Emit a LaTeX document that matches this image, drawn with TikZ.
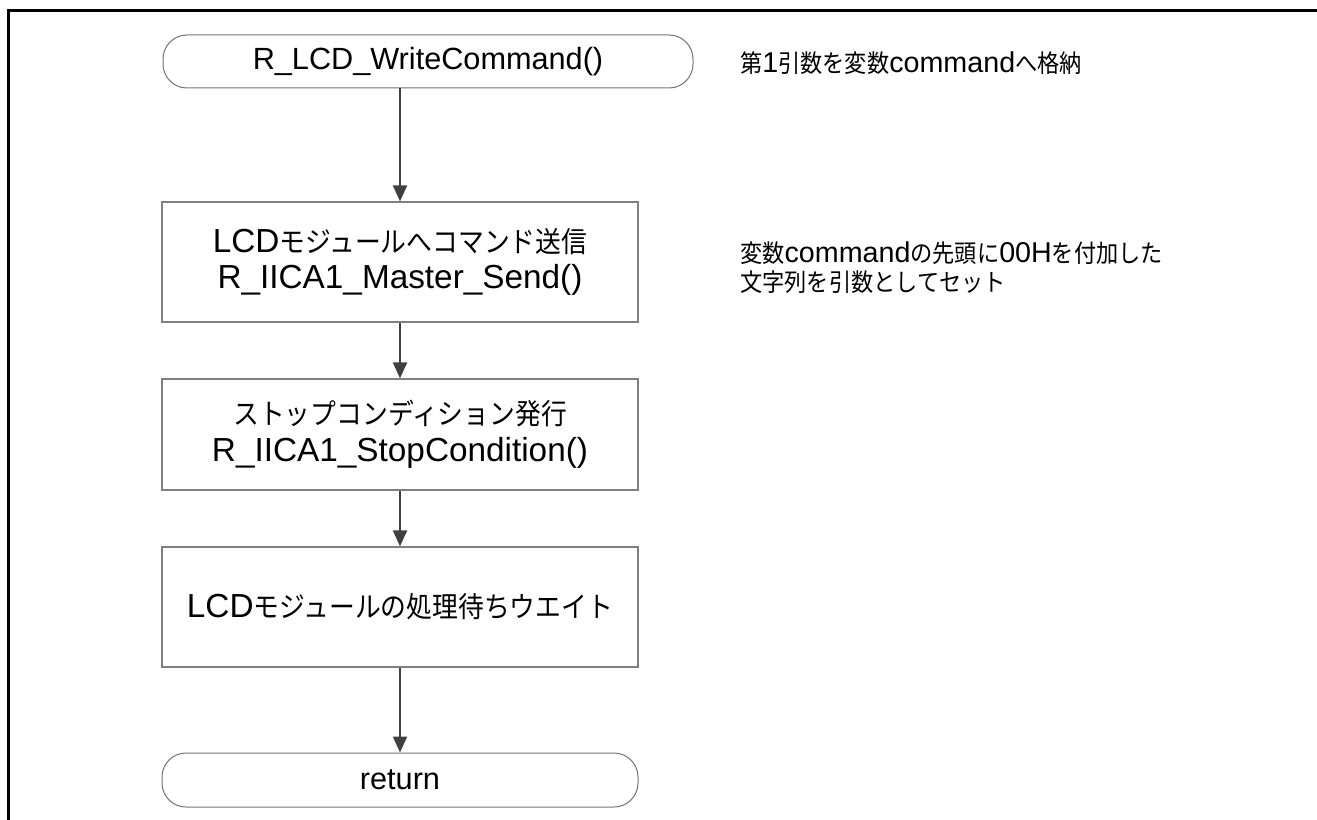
\documentclass[tikz,border=0pt]{standalone}
\usepackage{fontspec}
\setmainfont{Liberation Sans}
\newfontfamily\jp[Scale=0.86, FakeStretch=0.9]{Noto Sans CJK JP}
\usetikzlibrary{arrows.meta}
\def\largeur{1317}
\def\hauteur{820}

\begin{document}
\begin{tikzpicture}[x=0.75pt, y=-0.75pt,
  boite/.style={draw=black!50, line width=0.9pt, minimum width=357pt, align=center, inner sep=0pt, font=\fontsize{25}{27.5}\selectfont},
  terminal/.style={draw=black!55, line width=0.75pt, rounded corners=18pt, inner sep=0pt, font=\fontsize{23}{27}\selectfont},
  note/.style={anchor=west, align=left, inner sep=0pt, font=\fontsize{21.5}{21.75}\selectfont},
  fleche/.style={draw=black!75, line width=1.5pt, -{Triangle[length=12pt,width=10.5pt]}}]
\useasboundingbox (0,0) rectangle (\largeur,\hauteur);
\draw[line width=2.25pt] (8,\hauteur) -- (8,11) -- (\largeur,11);

\node[terminal, minimum width=397.5pt, minimum height=39.75pt] (debut) at (428,61.5) {R\_LCD\_WriteCommand()};
\node[boite, minimum height=90pt] (envoi) at (400,262) {LCD{\jp モジュールへコマンド送信}\\R\_IICA1\_Master\_Send()};
\node[boite, minimum height=83.25pt] (arret) at (400,434.5) {{\jp ストップコンディション発行}\\R\_IICA1\_StopCondition()};
\node[boite, minimum height=90pt] (attente) at (400,607) {LCD{\jp モジュールの処理待ちウエイト}};
\node[terminal, minimum width=357pt, minimum height=40.5pt] (retour) at (400,780) {return};

\node[note] (note1) at (740,63) {{\jp 第}1{\jp 引数を変数}command{\jp へ格納}};
\node[note] (note2) at (740,267.5) {{\jp 変数}command{\jp の先頭に}00H{\jp を付加した}\\{\jp 文字列を引数としてセット}};

\draw[fleche] (debut.south -| envoi.north) -- (envoi.north);
\draw[fleche] (envoi) -- (arret);
\draw[fleche] (arret) -- (attente);
\draw[fleche] (attente) -- (retour);
\end{tikzpicture}
\end{document}
